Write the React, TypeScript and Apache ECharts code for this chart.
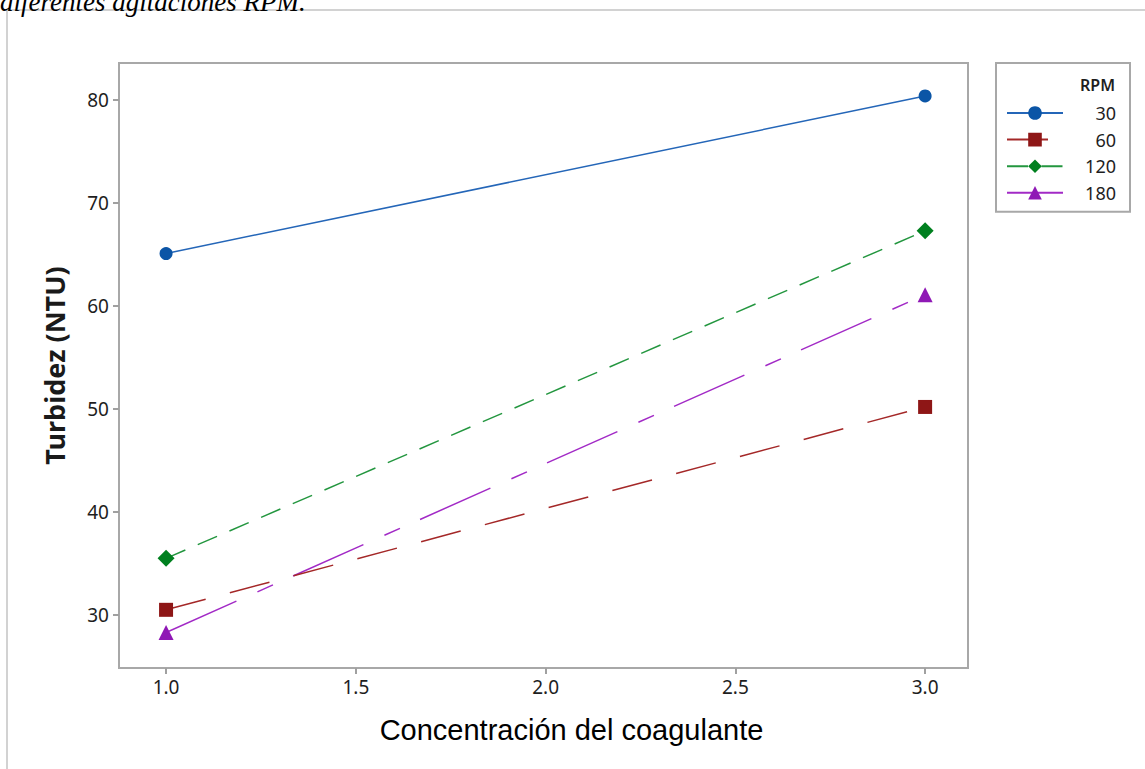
import React, { useEffect, useRef } from "react";
import * as echarts from "echarts";

const xTicks = [1.0, 1.5, 2.0, 2.5, 3.0];
const yTicks = [30, 40, 50, 60, 70, 80];
const concentrations = [1.0, 3.0];
const rpmLabels = ["30", "60", "120", "180"];
const rpm30 = [65.1, 80.4];
const rpm60 = [30.5, 50.2];
const rpm120 = [35.5, 67.3];
const rpm180 = [28.3, 61.1];

const seriesValues = [rpm30, rpm60, rpm120, rpm180];
const markerColors = ["#0B55A6", "#8E1616", "#00801F", "#8F18B5"];
const lineColors = ["#2466B8", "#A42828", "#23963F", "#A22AC6"];
const symbols = ["circle", "rect", "diamond", "triangle"];
const symbolSizes = [13, 14, 17, 15];
// dash arrays are multiplied by line width (1.5) by the renderer
const dashTypes: any[] = ["solid", [41, 25], [21, 13.5], [77, 23, 17, 22]];

export default function App() {
  const ref = useRef<HTMLDivElement>(null);
  useEffect(() => {
    if (!ref.current) return;
    const chart = echarts.init(ref.current, null, { renderer: "svg" });
    const font = "'Noto Sans', 'Open Sans', sans-serif";
    chart.setOption({
      animation: false,
      backgroundColor: "#ffffff",
      grid: { left: 119, top: 63, right: 177, bottom: 101, show: true, borderColor: "#a8a8a8", borderWidth: 2 },
      xAxis: {
        type: "value",
        min: 0.876,
        max: 3.113,
        name: "Concentración del coagulante",
        nameLocation: "middle",
        nameGap: 47,
        nameTextStyle: {
          fontFamily: "'Liberation Sans', Arial, sans-serif",
          fontSize: 29,
          color: "#000",
          padding: [0, 0, 0, 56],
        },
        axisLine: { show: true, lineStyle: { color: "#a8a8a8", width: 2 } },
        axisTick: { show: true, length: 6, lineStyle: { color: "#a0a0a0", width: 2 }, customValues: xTicks },
        axisLabel: {
          customValues: xTicks,
          formatter: (v: number) => v.toFixed(1),
          fontFamily: font,
          fontSize: 19,
          color: "#1e1e1e",
          margin: 9,
        },
        splitLine: { show: false },
      },
      yAxis: {
        type: "value",
        min: 24.85,
        max: 83.6,
        name: "Turbidez (NTU)",
        nameLocation: "middle",
        nameGap: 51,
        nameTextStyle: { fontFamily: font, fontSize: 27, fontWeight: "bold", color: "#1a1a1a" },
        axisLine: { show: true, lineStyle: { color: "#a8a8a8", width: 2 } },
        axisTick: { show: true, length: 6, lineStyle: { color: "#a0a0a0", width: 2 }, customValues: yTicks },
        axisLabel: {
          customValues: yTicks,
          fontFamily: font,
          fontSize: 19,
          color: "#1e1e1e",
          margin: 10,
        },
        splitLine: { show: false },
      },
      legend: {
        orient: "vertical",
        left: 996,
        top: 63,
        padding: [41, 14, 10, 10],
        itemWidth: 56,
        itemHeight: 17,
        itemGap: 8.6,
        borderColor: "#a8a8a8",
        borderWidth: 2,
        borderRadius: 0,
        data: rpmLabels,
        formatter: (n: string) => "{a|" + n + "}",
        textStyle: {
          lineHeight: 14,
          rich: { a: { width: 48, align: "right", fontFamily: font, fontSize: 18, lineHeight: 14, color: "#1e1e1e" } },
        },
      },
      graphic: [
        {
          type: "rect",
          shape: { x: 7, y: 10, width: 1160, height: 800 },
          style: { fill: "none", stroke: "#d2d2d2", lineWidth: 2 },
          silent: true,
        },
        {
          type: "text",
          x: 0,
          y: 15,
          style: {
            text: "diferentes agitaciones RPM.",
            font: "italic 27px 'Liberation Serif', 'Times New Roman', serif",
            fill: "#000",
            verticalAlign: "bottom",
            align: "left",
          },
        },
        {
          type: "text",
          x: 1115,
          y: 85,
          style: {
            text: "RPM",
            font: "600 16px 'Noto Sans', 'Open Sans', sans-serif",
            fill: "#1e1e1e",
            align: "right",
            verticalAlign: "middle",
          },
        },
      ],
      series: seriesValues.map((vals, i) => ({
        name: rpmLabels[i],
        type: "line",
        data: concentrations.map((c, j) => [c, vals[j]]),
        symbol: symbols[i],
        symbolSize: symbolSizes[i],
        showSymbol: true,
        itemStyle: { color: markerColors[i] },
        lineStyle: { color: lineColors[i], width: 1.5, type: dashTypes[i] },
        z: 10 - i,
      })),
    });
    return () => chart.dispose();
  }, []);
  return <div ref={ref} style={{ position: "absolute", left: 0, top: 0, width: 1145, height: 769 }} />;
}
